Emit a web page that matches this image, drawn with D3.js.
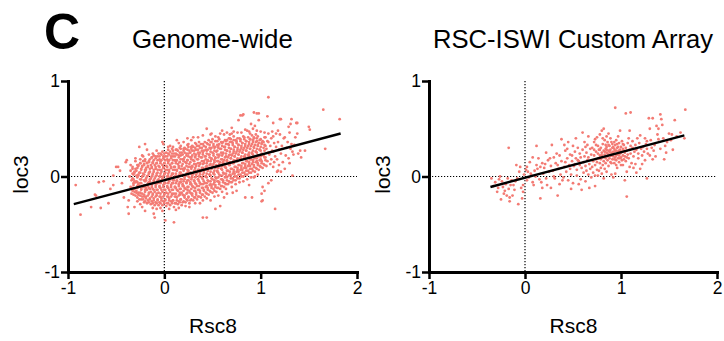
<!DOCTYPE html>
<html><head><meta charset="utf-8">
<script src="https://cdn.jsdelivr.net/npm/d3@7"></script>
<style>body{margin:0;background:#fff}svg{display:block}text{font-family:"Liberation Sans",Arial,Helvetica,sans-serif}</style>
</head><body><svg id="c" width="724" height="341"></svg>
<script>
const panelLetter = "C";
const panelTitles = ["Genome-wide", "RSC-ISWI Custom Array"];
const xLabel = "Rsc8";
const yLabel = "loc3";
const xTicks = [-1, 0, 1, 2];
const yTicks = [-1, 0, 1];

// Genome-wide: Rsc8 (x) vs loc3 (y)
const genomePoints = [
[-.34,-.18],[-.33,-.14],[-.35,-.11],[-.32,-.07],[-.34,-.04],[-.36,0],[-.33,.03],[-.35,.06],
[-.30,-.20],[-.29,-.17],[-.31,-.13],[-.28,-.10],[-.30,-.06],[-.32,-.03],[-.29,.01],[-.31,.04],[-.30,.08],[-.28,.12],
[-.26,-.24],[-.25,-.20],[-.27,-.17],[-.24,-.13],[-.26,-.10],[-.28,-.06],[-.25,-.03],[-.27,.01],[-.26,.04],[-.24,.08],[-.27,.11],[-.25,.14],
[-.22,-.24],[-.21,-.21],[-.23,-.18],[-.20,-.14],[-.22,-.11],[-.24,-.07],[-.21,-.04],[-.23,0],[-.22,.03],[-.20,.07],[-.23,.10],[-.21,.13],[-.22,.16],[-.21,-.27],
[-.18,-.28],[-.17,-.25],[-.19,-.21],[-.16,-.18],[-.18,-.14],[-.20,-.11],[-.17,-.07],[-.19,-.04],[-.18,0],[-.16,.03],[-.19,.07],[-.17,.10],[-.18,.14],[-.20,.18],
[-.14,-.29],[-.13,-.26],[-.15,-.23],[-.12,-.19],[-.14,-.16],[-.16,-.12],[-.13,-.09],[-.15,-.05],[-.14,-.02],[-.12,.02],[-.15,.05],[-.13,.09],[-.14,.12],[-.16,.16],[-.13,.20],
[-.10,-.30],[-.09,-.27],[-.11,-.23],[-.08,-.20],[-.10,-.16],[-.12,-.13],[-.09,-.09],[-.11,-.06],[-.10,-.02],[-.08,.01],[-.11,.05],[-.09,.08],[-.10,.12],[-.12,.15],[-.09,.19],[-.11,.22],
[-.06,-.30],[-.05,-.27],[-.07,-.24],[-.04,-.21],[-.06,-.17],[-.08,-.14],[-.05,-.10],[-.07,-.07],[-.06,-.03],[-.04,0],[-.07,.04],[-.05,.07],[-.06,.11],[-.08,.14],[-.05,.18],[-.07,.21],[-.06,.24],
[-.02,-.30],[-.01,-.26],[-.03,-.23],[0,-.19],[-.02,-.16],[-.04,-.12],[-.01,-.09],[-.03,-.05],[-.02,-.02],[0,.02],[-.03,.05],[-.01,.09],[-.02,.12],[-.04,.16],[-.01,.19],[-.03,.23],[-.02,.26],
[.02,-.31],[.03,-.28],[.01,-.24],[.04,-.21],[.02,-.17],[0,-.14],[.03,-.10],[.01,-.07],[.02,-.03],[.04,0],[.01,.04],[.03,.07],[.02,.11],[0,.14],[.03,.18],[.01,.21],[.02,.25],[.04,.28],
[.06,-.30],[.07,-.26],[.05,-.23],[.08,-.19],[.06,-.16],[.04,-.12],[.07,-.09],[.05,-.05],[.06,-.02],[.08,.02],[.05,.05],[.07,.09],[.06,.12],[.04,.16],[.07,.19],[.05,.23],[.06,.26],[.08,.29],
[.10,-.32],[.11,-.28],[.09,-.25],[.12,-.21],[.10,-.18],[.08,-.14],[.11,-.11],[.09,-.07],[.10,-.04],[.12,0],[.09,.03],[.11,.07],[.10,.10],[.08,.14],[.11,.17],[.09,.21],[.10,.24],[.12,.28],[.09,.31],
[.14,-.29],[.15,-.26],[.13,-.22],[.16,-.19],[.14,-.15],[.12,-.12],[.15,-.08],[.13,-.05],[.14,-.01],[.16,.02],[.13,.06],[.15,.09],[.14,.13],[.12,.16],[.15,.20],[.13,.23],[.14,.27],[.16,.30],
[.18,-.30],[.19,-.27],[.17,-.24],[.20,-.20],[.18,-.17],[.16,-.13],[.19,-.10],[.17,-.06],[.18,-.03],[.20,.01],[.17,.04],[.19,.08],[.18,.11],[.16,.15],[.19,.18],[.17,.22],[.18,.25],[.20,.29],[.17,.32],
[.22,-.27],[.23,-.24],[.21,-.20],[.24,-.17],[.22,-.13],[.20,-.10],[.23,-.06],[.21,-.03],[.22,.01],[.24,.04],[.21,.08],[.23,.11],[.22,.15],[.20,.18],[.23,.22],[.21,.25],[.22,.29],[.24,.33],
[.26,-.28],[.27,-.25],[.25,-.22],[.28,-.18],[.26,-.15],[.24,-.11],[.27,-.08],[.25,-.04],[.26,-.01],[.28,.03],[.25,.06],[.27,.10],[.26,.13],[.24,.17],[.27,.20],[.25,.24],[.26,.27],[.28,.31],[.25,.34],
[.30,-.25],[.31,-.22],[.29,-.18],[.32,-.15],[.30,-.11],[.28,-.08],[.31,-.04],[.29,-.01],[.30,.03],[.32,.06],[.29,.10],[.31,.13],[.30,.17],[.28,.20],[.31,.24],[.29,.27],[.30,.31],[.32,.35],
[.34,-.24],[.35,-.21],[.33,-.17],[.36,-.14],[.34,-.10],[.32,-.07],[.35,-.03],[.33,0],[.34,.04],[.36,.07],[.33,.11],[.35,.14],[.34,.18],[.32,.21],[.35,.25],[.33,.28],[.34,.32],[.36,.36],
[.38,-.22],[.39,-.19],[.37,-.15],[.40,-.12],[.38,-.08],[.36,-.05],[.39,-.01],[.37,.02],[.38,.06],[.40,.09],[.37,.13],[.39,.16],[.38,.20],[.36,.23],[.39,.27],[.37,.30],[.38,.34],
[.42,-.21],[.43,-.17],[.41,-.14],[.44,-.10],[.42,-.07],[.40,-.03],[.43,0],[.41,.04],[.42,.07],[.44,.11],[.41,.14],[.43,.18],[.42,.21],[.40,.25],[.43,.28],[.41,.32],[.42,.36],
[.46,-.19],[.47,-.15],[.45,-.12],[.48,-.08],[.46,-.05],[.44,-.01],[.47,.02],[.45,.06],[.46,.09],[.48,.13],[.45,.16],[.47,.20],[.46,.23],[.44,.27],[.47,.30],[.45,.34],[.46,.38],
[.50,-.17],[.51,-.13],[.49,-.10],[.52,-.06],[.50,-.03],[.48,.01],[.51,.04],[.49,.08],[.50,.11],[.52,.15],[.49,.18],[.51,.22],[.50,.25],[.48,.29],[.51,.32],[.49,.36],[.50,.39],
[.54,-.16],[.55,-.12],[.53,-.09],[.56,-.05],[.54,-.02],[.52,.02],[.55,.05],[.53,.09],[.54,.12],[.56,.16],[.53,.19],[.55,.23],[.54,.26],[.52,.30],[.55,.33],[.53,.37],
[.58,-.13],[.59,-.10],[.57,-.06],[.60,-.03],[.58,.01],[.56,.04],[.59,.08],[.57,.11],[.58,.15],[.60,.18],[.57,.22],[.59,.25],[.58,.29],[.56,.32],[.59,.36],[.57,.39],
[.62,-.11],[.63,-.07],[.61,-.04],[.64,0],[.62,.03],[.60,.07],[.63,.10],[.61,.14],[.62,.17],[.64,.21],[.61,.24],[.63,.28],[.62,.31],[.60,.35],[.63,.38],
[.66,-.08],[.67,-.05],[.65,-.01],[.68,.02],[.66,.06],[.64,.09],[.67,.13],[.65,.16],[.66,.20],[.68,.23],[.65,.27],[.67,.30],[.66,.34],[.64,.37],[.67,.40],
[.70,-.06],[.71,-.02],[.69,.01],[.72,.05],[.70,.08],[.68,.12],[.71,.15],[.69,.19],[.70,.22],[.72,.26],[.69,.29],[.71,.33],[.70,.36],[.68,.40],
[.74,-.04],[.75,0],[.73,.03],[.76,.07],[.74,.10],[.72,.14],[.75,.17],[.73,.21],[.74,.24],[.76,.28],[.73,.31],[.75,.35],[.74,.38],[.72,.42],
[.78,-.02],[.79,.02],[.77,.05],[.80,.09],[.78,.12],[.76,.16],[.79,.19],[.77,.23],[.78,.26],[.80,.30],[.77,.33],[.79,.37],[.78,.40],
[.82,0],[.83,.04],[.81,.07],[.84,.11],[.82,.14],[.80,.18],[.83,.21],[.81,.25],[.82,.28],[.84,.32],[.81,.35],[.83,.39],[.82,.42],
[.86,.02],[.87,.06],[.85,.09],[.88,.13],[.86,.16],[.84,.20],[.87,.23],[.85,.27],[.86,.30],[.88,.34],[.85,.37],[.87,.41],
[.90,.04],[.91,.08],[.89,.11],[.92,.15],[.90,.18],[.88,.22],[.91,.25],[.89,.29],[.90,.32],[.92,.36],[.89,.39],[.91,.43],
[.94,.05],[.95,.09],[.93,.12],[.96,.16],[.94,.19],[.92,.23],[.95,.26],[.93,.30],[.94,.33],[.96,.37],[.93,.40],[.95,.44],
[.98,.07],[.99,.11],[.97,.14],[1,.18],[.98,.21],[.96,.25],[.99,.28],[.97,.32],[.98,.35],[1,.39],[.97,.42],
[1.02,.09],[1.03,.13],[1.01,.16],[1.04,.20],[1.02,.23],[1,.27],[1.03,.30],[1.01,.34],[1.02,.37],[1.04,.41],
[1.06,.11],[1.07,.16],[1.05,.20],[1.08,.25],[1.06,.29],[1.04,.33],[1.07,.37],[1.05,.41],
[1.10,.13],[1.11,.18],[1.09,.23],[1.12,.27],[1.10,.32],[1.08,.36],[1.11,.40],
[1.14,.15],[1.15,.21],[1.13,.26],[1.16,.31],[1.14,.35],[1.13,.42],
[-.32,-.19],[-.31,-.16],[-.33,-.12],[-.32,-.09],[-.31,-.05],[-.33,-.02],[-.32,.02],[-.31,.05],[-.33,.08],
[-.28,-.22],[-.27,-.19],[-.29,-.15],[-.28,-.12],[-.27,-.08],[-.29,-.05],[-.28,-.01],[-.27,.02],[-.29,.06],[-.28,.09],[-.27,.12],
[-.24,-.24],[-.23,-.21],[-.25,-.17],[-.24,-.14],[-.23,-.10],[-.25,-.07],[-.24,-.03],[-.23,0],[-.25,.04],[-.24,.07],[-.23,.11],[-.25,.14],
[-.20,-.26],[-.19,-.23],[-.21,-.19],[-.20,-.16],[-.19,-.12],[-.21,-.09],[-.20,-.05],[-.19,-.02],[-.21,.02],[-.20,.05],[-.19,.09],[-.21,.12],[-.20,.16],
[-.16,-.27],[-.15,-.24],[-.17,-.20],[-.16,-.17],[-.15,-.13],[-.17,-.10],[-.16,-.06],[-.15,-.03],[-.17,.01],[-.16,.04],[-.15,.08],[-.17,.11],[-.16,.15],[-.15,.18],
[-.12,-.28],[-.11,-.25],[-.13,-.21],[-.12,-.18],[-.11,-.14],[-.13,-.11],[-.12,-.07],[-.11,-.04],[-.13,0],[-.12,.03],[-.11,.07],[-.13,.10],[-.12,.14],[-.11,.17],[-.13,.20],
[-.08,-.28],[-.07,-.25],[-.09,-.21],[-.08,-.18],[-.07,-.14],[-.09,-.11],[-.08,-.07],[-.07,-.04],[-.09,0],[-.08,.03],[-.07,.07],[-.09,.10],[-.08,.14],[-.07,.17],[-.09,.21],
[-.04,-.28],[-.03,-.25],[-.05,-.21],[-.04,-.18],[-.03,-.14],[-.05,-.11],[-.04,-.07],[-.03,-.04],[-.05,0],[-.04,.03],[-.03,.07],[-.05,.10],[-.04,.14],[-.03,.17],[-.05,.21],[-.04,.24],
[0,-.28],[.01,-.25],[-.01,-.21],[0,-.18],[.01,-.14],[-.01,-.11],[0,-.07],[.01,-.04],[-.01,0],[0,.03],[.01,.07],[-.01,.10],[0,.14],[.01,.17],[-.01,.21],[0,.24],
[.04,-.28],[.05,-.25],[.03,-.21],[.04,-.18],[.05,-.14],[.03,-.11],[.04,-.07],[.05,-.04],[.03,0],[.04,.03],[.05,.07],[.03,.10],[.04,.14],[.05,.17],[.03,.21],[.04,.24],
[.08,-.28],[.09,-.25],[.07,-.21],[.08,-.18],[.09,-.14],[.07,-.11],[.08,-.07],[.09,-.04],[.07,0],[.08,.03],[.09,.07],[.07,.10],[.08,.14],[.09,.17],[.07,.21],[.08,.24],[.09,.27],
[.12,-.28],[.13,-.25],[.11,-.21],[.12,-.18],[.13,-.14],[.11,-.11],[.12,-.07],[.13,-.04],[.11,0],[.12,.03],[.13,.07],[.11,.10],[.12,.14],[.13,.17],[.11,.21],[.12,.24],[.13,.28],
[.16,-.27],[.17,-.24],[.15,-.20],[.16,-.17],[.17,-.13],[.15,-.10],[.16,-.06],[.17,-.03],[.15,.01],[.16,.04],[.17,.08],[.15,.11],[.16,.15],[.17,.18],[.15,.22],[.16,.25],[.17,.29],
[.20,-.26],[.21,-.22],[.19,-.19],[.20,-.15],[.21,-.12],[.19,-.08],[.20,-.05],[.21,-.01],[.19,.02],[.20,.06],[.21,.09],[.19,.13],[.20,.16],[.21,.20],[.19,.23],[.20,.27],[.21,.30],
[.24,-.25],[.25,-.21],[.23,-.18],[.24,-.14],[.25,-.11],[.23,-.07],[.24,-.04],[.25,0],[.23,.03],[.24,.07],[.25,.10],[.23,.14],[.24,.17],[.25,.21],[.23,.24],[.24,.28],[.25,.31],
[.28,-.24],[.29,-.20],[.27,-.17],[.28,-.13],[.29,-.10],[.27,-.06],[.28,-.03],[.29,.01],[.27,.04],[.28,.08],[.29,.11],[.27,.15],[.28,.18],[.29,.22],[.27,.25],[.28,.29],[.29,.32],
[.32,-.22],[.33,-.19],[.31,-.15],[.32,-.12],[.33,-.08],[.31,-.05],[.32,-.01],[.33,.02],[.31,.06],[.32,.09],[.33,.13],[.31,.16],[.32,.20],[.33,.23],[.31,.27],[.32,.30],[.33,.34],
[.36,-.21],[.37,-.17],[.35,-.14],[.36,-.10],[.37,-.07],[.35,-.03],[.36,0],[.37,.04],[.35,.07],[.36,.11],[.37,.14],[.35,.18],[.36,.21],[.37,.25],[.35,.28],[.36,.32],
[.40,-.19],[.41,-.15],[.39,-.12],[.40,-.08],[.41,-.05],[.39,-.01],[.40,.02],[.41,.06],[.39,.09],[.40,.13],[.41,.16],[.39,.20],[.40,.23],[.41,.27],[.39,.30],[.40,.34],
[.44,-.18],[.45,-.14],[.43,-.11],[.44,-.07],[.45,-.04],[.43,0],[.44,.03],[.45,.07],[.43,.10],[.44,.14],[.45,.17],[.43,.21],[.44,.24],[.45,.28],[.43,.31],[.44,.35],
[.48,-.16],[.49,-.12],[.47,-.09],[.48,-.05],[.49,-.02],[.47,.02],[.48,.05],[.49,.09],[.47,.12],[.48,.16],[.49,.19],[.47,.23],[.48,.26],[.49,.30],[.47,.33],[.48,.36],
[.52,-.15],[.53,-.11],[.51,-.08],[.52,-.04],[.53,-.01],[.51,.03],[.52,.06],[.53,.10],[.51,.13],[.52,.17],[.53,.20],[.51,.24],[.52,.27],[.53,.31],[.51,.34],
[.56,-.12],[.57,-.08],[.55,-.05],[.56,-.01],[.57,.02],[.55,.06],[.56,.09],[.57,.13],[.55,.16],[.56,.20],[.57,.23],[.55,.27],[.56,.30],[.57,.34],[.55,.37],
[.60,-.10],[.61,-.06],[.59,-.03],[.60,.01],[.61,.04],[.59,.08],[.60,.11],[.61,.15],[.59,.18],[.60,.22],[.61,.25],[.59,.29],[.60,.32],[.61,.36],
[.64,-.08],[.65,-.04],[.63,-.01],[.64,.03],[.65,.06],[.63,.10],[.64,.13],[.65,.17],[.63,.20],[.64,.24],[.65,.27],[.63,.31],[.64,.34],[.65,.38],
[.68,-.06],[.69,-.02],[.67,.01],[.68,.05],[.69,.08],[.67,.12],[.68,.15],[.69,.19],[.67,.22],[.68,.26],[.69,.29],[.67,.33],[.68,.36],[.69,.39],
[.72,-.04],[.73,0],[.71,.03],[.72,.07],[.73,.10],[.71,.14],[.72,.17],[.73,.21],[.71,.24],[.72,.28],[.73,.31],[.71,.35],[.72,.38],
[.76,-.02],[.77,.02],[.75,.05],[.76,.09],[.77,.12],[.75,.16],[.76,.19],[.77,.23],[.75,.26],[.76,.30],[.77,.33],[.75,.37],[.76,.40],
[.80,0],[.81,.04],[.79,.07],[.80,.11],[.81,.14],[.79,.18],[.80,.21],[.81,.25],[.79,.28],[.80,.32],[.81,.35],[.79,.39],
[.84,.02],[.85,.06],[.83,.09],[.84,.13],[.85,.16],[.83,.20],[.84,.23],[.85,.27],[.83,.30],[.84,.34],[.85,.37],[.83,.41],
[.88,.04],[.89,.08],[.87,.11],[.88,.15],[.89,.18],[.87,.22],[.88,.25],[.89,.29],[.87,.32],[.88,.36],[.89,.39],
[.92,.06],[.93,.10],[.91,.13],[.92,.17],[.93,.20],[.91,.24],[.92,.27],[.93,.31],[.91,.34],[.92,.38],[.93,.41],
[.96,.08],[.97,.12],[.95,.15],[.96,.19],[.97,.22],[.95,.26],[.96,.29],[.97,.33],[.95,.36],[.96,.40],
[1,.10],[1.01,.14],[.99,.17],[1,.21],[1.01,.24],[.99,.28],[1,.31],[1.01,.35],[.99,.38],
[1.04,.12],[1.05,.17],[1.03,.22],[1.04,.27],[1.05,.32],[1.03,.36],
[1.17,.18],[1.19,.28],[1.18,.36],[1.21,.24],[1.22,.32],[1.23,.15],[1.24,.40],[1.26,.22],[1.27,.30],[1.19,.12],[1.16,.45],[1.2,.44],[1.29,.19],[1.31,.29],[1.35,.33],[1.34,.23],
[.35,.41],[.40,.43],[.48,.44],[.53,.42],[.58,.45],[.62,.44],[.68,.44],[.72,.47],[.76,.46],[.80,.46],[.84,.49],[.88,.47],[.92,.50],[.96,.48],[1.0,.47],[1.04,.46],[1.08,.45],[1.12,.47],[.60,.48],[.70,.51],[.90,.55],[.94,.53],[.28,.38],[.20,.36],[.15,.35],[.04,.31],[-.08,.27],[-.12,.24],[-.16,.23],[-.25,.18],[-.30,.16],[-.33,.10],[-.22,.21],
[-.28,-.26],[-.25,-.29],[-.12,-.33],[-.08,-.34],[-.04,-.33],[.05,-.34],[.12,-.35],[.15,-.33],[.22,-.31],[.26,-.32],[.32,-.28],[.40,-.25],[.44,-.23],[.52,-.21],[.56,-.20],[.60,-.16],[.64,-.13],[.70,-.11],[.74,-.08],[.78,-.06],[.82,-.05],[.86,-.03],[.90,-.01],[.94,0],[.97,.02],[.62,-.22],[.71,-.17],[.88,-.09],
[-.92,-.09],[-.87,-.40],[-.76,-.32],[-.71,-.20],[-.66,-.33],[-.68,-.06],[-.72,-.19],[-.63,-.05],[-.58,-.28],[-.56,-.13],[-.53,.01],[-.53,-.09],[-.50,.10],[-.48,.10],[-.46,.06],[-.44,-.07],[-.42,-.22],[-.40,.15],[-.39,.17],[-.38,-.32],[-.37,-.25],[-.37,-.39],[-.35,.12],[-.33,-.15],[-.31,-.32],[-.30,.19],[-.26,.31],[-.23,.22],[-.20,.34],[-.18,.28],[-.23,-.32],[-.20,-.36],[-.11,-.39],[-.10,-.43],[-.02,.36],[.01,-.46],[.10,-.48],[-.02,-.36],[.37,-.28],[.48,-.25],[.53,-.34],[.58,-.31],[.65,-.18],[.75,-.15],[.84,-.22],[.40,-.43],[.44,-.43],
[.44,.50],[.49,.45],[.30,.41],[.56,.41],[.65,.46],[.13,.38],[.24,.40],[.06,.32],[-.01,.34],[.70,.45],[.89,.45],[.77,.59],[.79,.64],[.81,.64],[.82,.65],[.86,.48],[.93,.67],[.96,.66],[.98,.59],[.98,.66],[1.07,.63],[1.08,.83],[1.13,.56],[1.20,.60],[1.21,.60],[1.31,.55],[1.32,.60],[1.37,.56],[1.38,.56],[1.50,.52],[1.51,.49],[1.65,.70],[1.82,.60],[1.67,.29],[1.46,.27],[1.41,.27],[1.42,.20],[1.39,.24],[1.33,.26],[1.30,.14],[1.33,.01],[1.25,.08],[1.21,.05],[1.18,.48],[1.29,.52],[1.30,.46],[1.25,.41],[1.28,.36],[1.38,.45],[1.36,.41],[1.32,.34],[1.02,-.11],[1.04,-.15],[1.01,-.18],[1.02,-.25],[1.15,-.34],[1.08,-.07],[1.11,-.04],[1.18,.06],[1.13,.10],[1.17,.05],[.91,-.22],[.93,-.01],[1.01,-.26]
];

// RSC-ISWI custom array
const customPoints = [
[-.35,-.02],[-.33,-.10],[-.31,-.06],[-.29,-.16],[-.27,-.03],[-.26,0],[-.24,-.05],[-.23,-.11],[-.22,-.18],[-.21,-.15],[-.20,-.08],[-.19,-.20],[-.18,-.02],[-.17,-.13],[-.17,.30],[-.16,-.22],[-.16,-.26],[-.15,-.09],[-.13,-.20],[-.12,-.09],[-.11,-.14],[-.10,-.05],[-.09,.12],[-.08,-.02],[-.07,-.29],[-.06,.05],[-.05,.10],[-.04,-.12],[-.03,-.23],[-.02,-.16],[-.02,-.09],[-.01,.02],[-.14,-.04],[-.28,-.12],[-.25,-.24],
[.01,.07],[.02,-.04],[.02,.10],[.03,.05],[.04,-.01],[.05,.15],[.06,.03],[.07,.01],[.08,-.06],[.09,-.09],[.10,.06],[.11,0],[.12,.32],[.13,.08],[.14,.19],[.15,-.03],[.16,.10],[.16,-.23],[.17,-.06],[.18,.14],[.19,.03],[.20,.09],[.21,.13],[.22,-.02],[.23,-.09],[.24,.17],[.25,.05],[.26,.19],[.27,.11],[.28,.33],[.29,.06],[.30,0],[.31,-.02],[.32,.14],[.33,.24],[.34,.12],[.34,-.20],[.35,.08],[.36,.22],[.37,.02],[.38,.39],[.38,.16],[.39,-.04],[.30,.20],[.22,.25],[.12,.12],[.08,.20],[.27,-.12],[.36,-.08],[.18,-.12],
[.40,-.01],[.41,.10],[.42,.15],[.42,.27],[.43,.05],[.44,.29],[.44,.19],[.45,-.04],[.46,.12],[.47,.08],[.47,.23],[.48,.02],[.49,.22],[.49,.16],[.50,.32],[.50,-.07],[.51,.11],[.52,.13],[.52,.26],[.53,.19],[.54,.01],[.54,.07],[.55,.30],[.56,-.08],[.56,.16],[.57,.24],[.57,.12],[.58,.20],[.58,-.03],[.59,.09],[.60,.46],[.60,.28],[.61,.15],[.61,.04],[.62,.36],[.62,.21],[.63,.11],[.63,-.05],[.64,.06],[.64,.25],[.65,.17],[.65,.33],[.66,.20],[.66,.02],[.67,.13],[.67,-.12],[.68,.29],[.68,.08],[.69,-.01],[.69,.23],[.45,.36],[.53,.40],[.48,-.13],[.59,-.14],[.66,.42],[.41,.33],[.63,.31],[.55,.17],
[.70,.10],[.70,.30],[.71,.16],[.71,.04],[.72,.22],[.72,.36],[.73,.39],[.73,-.10],[.73,.12],[.74,.26],[.74,.18],[.75,.15],[.75,.41],[.75,.07],[.76,.24],[.76,.32],[.76,.01],[.77,.19],[.77,.28],[.78,.14],[.78,.22],[.78,.44],[.79,.09],[.79,.30],[.79,.18],[.80,.48],[.80,.25],[.80,.03],[.81,.20],[.81,.34],[.81,.12],[.82,.50],[.82,.27],[.82,-.02],[.82,.16],[.83,.23],[.83,.38],[.83,.08],[.84,.29],[.84,.19],[.84,.14],[.85,.31],[.85,.25],[.85,.05],[.86,.21],[.86,.36],[.86,.17],[.87,.45],[.87,.27],[.87,.11],[.88,.23],[.88,.32],[.88,.19],[.89,.15],[.89,.28],[.89,.40],[.90,.22],[.90,.25],[.90,.02],[.91,.18],[.91,.30],[.91,.34],[.92,-.01],[.92,.26],[.92,.21],[.93,.14],[.93,.29],[.93,.24],[.94,.72],[.94,.03],[.94,.20],[.94,.33],[.95,.27],[.95,.17],[.95,.38],[.96,.23],[.96,.30],[.96,.09],[.97,.19],[.97,.26],[.97,.42],[.98,.22],[.98,.35],[.98,.15],[.99,.48],[.99,.28],[.99,.24],[1,.20],[1,.31],[1,.12],[1.01,.26],[1.01,.37],[1.02,.12],[1.02,.22],[1.02,.29],[1.03,.18],[1.03,.33],[1.04,-.04],[1.04,.25],[1.04,.21],[1.05,.66],[1.05,.30],[1.05,.16],[1.06,.05],[1.06,-.21],[1.06,.27],[1.07,.23],[1.07,.35],[1.08,.19],[1.08,.40],[1.09,.48],[1.09,.10],[1.09,.28],[1.10,.67],[1.10,.24],[1.10,.32],
[.85,.28],[.87,.33],[.89,.22],[.90,.36],[.92,.31],[.93,.18],[.95,.22],[.96,.34],[.98,.27],[1,.25],[1.01,.17],[1.03,.27],[.88,.26],[.91,.24],[.94,.27],[.97,.31],[.99,.19],[.86,.24],[.84,.33],[.80,.22],[.78,.28],[.76,.19],[.74,.33],[.72,.28],[.83,.26],[.95,.12],[1.02,.34],[1.06,.20],[.93,.36],[.90,.14],[.73,.01],[.77,.06],[.81,.40],[.85,.42],
[1.11,.14],[1.12,.30],[1.12,.37],[1.13,.21],[1.14,.26],[1.15,.13],[1.15,.33],[1.16,.04],[1.16,.28],[1.17,.40],[1.18,.19],[1.18,.24],[1.19,.35],[1.20,.43],[1.20,.08],[1.21,.29],[1.22,.22],[1.23,.31],[1.24,.26],[1.25,.17],[1.26,.34],[1.27,.37],[1.27,.29],[1.27,-.02],[1.28,.24],[1.29,.61],[1.30,.50],[1.30,.22],[1.31,.38],[1.32,.30],[1.33,.61],[1.34,.27],[1.35,.33],[1.36,.21],[1.37,.53],[1.38,.44],[1.39,.50],[1.39,.39],[1.13,.09],[1.22,.13],[1.25,.40],[1.33,.18],
[1.41,.65],[1.42,.60],[1.43,.54],[1.44,.40],[1.45,.18],[1.46,.32],[1.48,.36],[1.50,.45],[1.53,.44],[1.54,.28],[1.56,.59],[1.58,.42],[1.62,.46],[1.66,.40],[1.67,.70],[1.47,.25],[1.52,.38],[1.41,.29]
];

// Linear fits (end points)
const genomeFitX = [-0.94, 1.83];
const genomeFitY = [-0.29, 0.45];
const customFitX = [-0.36, 1.66];
const customFitY = [-0.11, 0.43];

const svg = d3.select("#c");
const dotColor = "#f37b74";
const plotTop = 81, plotBottom = 272;

const panels = [
  { left: 68, right: 357, title: panelTitles[0], titleX: 212.4, titleW: 161, pts: genomePoints, fx: genomeFitX, fy: genomeFitY, yLabX: 28 },
  { left: 429, right: 717, title: panelTitles[1], titleX: 573, titleW: 280, pts: customPoints, fx: customFitX, fy: customFitY, yLabX: 390 }
];

svg.append("text").attr("x", 44).attr("y", 49)
  .attr("font-size", 50).attr("font-weight", "bold")
  .text(panelLetter);

panels.forEach(p => {
  const x = d3.scaleLinear().domain([-1, 2]).range([p.left, p.right]);
  const y = d3.scaleLinear().domain([-1, 1]).range([plotBottom, plotTop]);
  const g = svg.append("g");
  const cx = (x(-1) + x(2)) / 2 + 0.5;

  g.append("text").attr("x", p.titleX).attr("y", 48).attr("text-anchor", "middle")
    .attr("font-size", 25).attr("textLength", p.titleW).attr("lengthAdjust", "spacingAndGlyphs")
    .text(p.title);

  // zero reference lines
  g.append("line").attr("x1", x(0)).attr("x2", x(0)).attr("y1", y(1)).attr("y2", y(-1))
    .attr("stroke", "#000").attr("stroke-width", 1.2).attr("stroke-dasharray", "1.2,1.8");
  g.append("line").attr("x1", x(-1)).attr("x2", x(2)).attr("y1", y(0)).attr("y2", y(0))
    .attr("stroke", "#000").attr("stroke-width", 1.2).attr("stroke-dasharray", "1.2,1.8");

  // points
  g.append("g").selectAll("circle").data(p.pts).join("circle")
    .attr("cx", d => x(d[0])).attr("cy", d => y(d[1])).attr("r", 1.4)
    .attr("fill", dotColor);

  // fit line
  g.append("line").attr("x1", x(p.fx[0])).attr("y1", y(p.fy[0]))
    .attr("x2", x(p.fx[1])).attr("y2", y(p.fy[1]))
    .attr("stroke", "#000").attr("stroke-width", 2.4);

  // axes
  const fmt = d => String(d);
  const xa = g.append("g").attr("transform", `translate(0,${plotBottom})`)
    .call(d3.axisBottom(x).tickValues(xTicks).tickFormat(fmt).tickSize(7).tickSizeOuter(0).tickPadding(3));
  const ya = g.append("g").attr("transform", `translate(${p.left},0)`)
    .call(d3.axisLeft(y).tickValues(yTicks).tickFormat(fmt).tickSize(7).tickSizeOuter(0).tickPadding(1));
  [xa, ya].forEach(a => {
    a.attr("font-family", null).attr("font-size", null);
    a.select(".domain").attr("stroke", "#000").attr("stroke-width", 3).attr("stroke-linecap", "square");
    a.selectAll(".tick line").attr("stroke", "#000").attr("stroke-width", 2.5);
    a.selectAll(".tick text").attr("fill", "#000").attr("font-size", 17.5);
  });

  // axis labels
  g.append("text").attr("x", cx).attr("y", 333).attr("text-anchor", "middle")
    .attr("font-size", 21).text(xLabel);
  g.append("text").attr("transform", `translate(${p.yLabX},${(plotTop + plotBottom) / 2 - 2}) rotate(-90)`)
    .attr("text-anchor", "middle").attr("font-size", 21).text(yLabel);
});
</script>
</body></html>
